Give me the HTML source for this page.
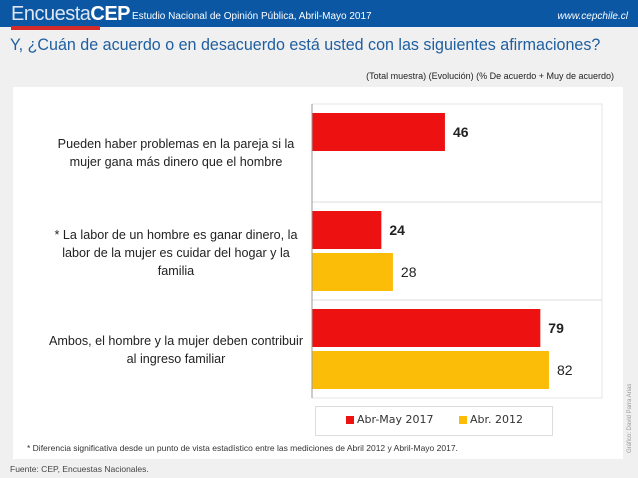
<!DOCTYPE html>
<html><head><meta charset="utf-8"><style>
body{margin:0;width:638px;height:478px;background:#f0f0f0;font-family:"Liberation Sans",sans-serif;position:relative;overflow:hidden}
.abs{position:absolute}
.lbl{position:absolute;left:36px;width:280px;text-align:center;font-family:"Liberation Sans",sans-serif;font-size:12.6px;line-height:18px;color:#222;white-space:nowrap}
</style></head><body>
<div class="abs" style="left:0;top:0;width:638px;height:27px;background:#0b57a4"></div>
<div class="abs" style="left:11px;top:26px;width:89px;height:4px;background:#d42a2a"></div>
<div class="abs" style="left:11px;top:3px;color:#fff;font-size:20px;letter-spacing:-0.5px"><span style="color:#dde6f2">Encuesta</span><b>CEP</b></div>
<div class="abs" style="left:132px;top:11px;color:#fff;font-size:10px">Estudio Nacional de Opinión Pública, Abril-Mayo 2017</div>
<div class="abs" style="right:10px;top:11px;color:#fff;font-size:10px;font-style:italic">www.cepchile.cl</div>
<div class="abs" id="title" style="left:10px;top:35px;color:#1f5fa0;font-size:17px;white-space:nowrap;transform-origin:left top">Y, ¿Cuán de acuerdo o en desacuerdo está usted con las siguientes afirmaciones?</div>
<div class="abs" style="right:24px;top:71px;color:#222;font-size:9px">(Total muestra) (Evolución) (% De acuerdo + Muy de acuerdo)</div>
<div class="abs" style="left:13px;top:87px;width:610px;height:372px;background:#fff"></div>
<svg class="abs" style="left:0;top:0" width="638" height="478" id="chart"></svg>
<div class="lbl" style="top:135px">Pueden haber problemas en la pareja si la<br>mujer gana más dinero que el hombre</div>
<div class="lbl" style="top:226px">* La labor de un hombre es ganar dinero, la<br>labor de la mujer es cuidar del hogar y la<br>familia</div>
<div class="lbl" style="top:332px">Ambos, el hombre y la mujer deben contribuir<br>al ingreso familiar</div>
<div class="abs" style="left:315px;top:406px;width:236px;height:28px;border:1px solid #ddd;background:#fff;font-family:'DejaVu Sans',sans-serif;font-size:11px;color:#333">
<span class="abs" style="left:30px;top:9px;width:8px;height:8px;background:#ee1111"></span><span class="abs" style="left:41px;top:6px">Abr-May 2017</span>
<span class="abs" style="left:143px;top:9px;width:8px;height:8px;background:#fbbd08"></span><span class="abs" style="left:154px;top:6px">Abr. 2012</span></div>
<div class="abs" style="left:27px;top:443px;font-size:8.5px;color:#333">* Diferencia significativa desde un punto de vista estadístico entre las mediciones de Abril 2012 y Abril-Mayo 2017.</div>
<div class="abs" style="left:10px;top:464px;font-size:8.5px;color:#444">Fuente: CEP, Encuestas Nacionales.</div>
<div class="abs" style="left:590px;top:410px;width:80px;font-size:6px;color:#999;transform:rotate(-90deg);transform-origin:center">Gráfico: David Parra Arias</div>
<script>
const categories=["Pueden haber problemas","La labor de un hombre","Ambos"];
const series2017=[46,24,79];
const series2012=[null,28,82];
const ns="http://www.w3.org/2000/svg";
const svg=document.getElementById('chart');
const X0=312,PW=289,Y0=104,BAND=98;
const xs=v=>X0+v/100*PW;
const tt=document.getElementById('title');
tt.style.transform='scaleX('+(590/tt.offsetWidth)+')';
function mk(t,a){const e=document.createElementNS(ns,t);for(const k in a)e.setAttribute(k,a[k]);svg.appendChild(e);return e;}
const frame=mk('rect',{x:X0,y:Y0,width:602-X0,height:BAND*3,fill:'none',stroke:'#e4e4e4'});


for(let i=1;i<3;i++){const g=mk('line',{x1:X0,x2:602,y1:Y0+i*BAND,y2:Y0+i*BAND,stroke:'#ddd'});

}
categories.forEach((c,i)=>{
 [[series2017,'#ee1111',9,'bold'],[series2012,'#fbbd08',51,'normal']].forEach(([s,col,off,fw],j)=>{
  const v=s[i]; if(v==null)return;
  const y=Y0+i*BAND+off;
  const r=mk('rect',{x:X0,y:y,width:xs(v)-X0,height:38,fill:col});
  
  
  const t=mk('text',{x:xs(v)+8,y:y+24,'font-family':'Liberation Sans,sans-serif','font-size':14,'font-weight':fw,fill:'#222'});
  t.textContent=v;
  
  
 });
});
const ax=mk('line',{x1:X0,x2:X0,y1:Y0,y2:Y0+BAND*3,stroke:'#999'});


</script>
</body></html>
